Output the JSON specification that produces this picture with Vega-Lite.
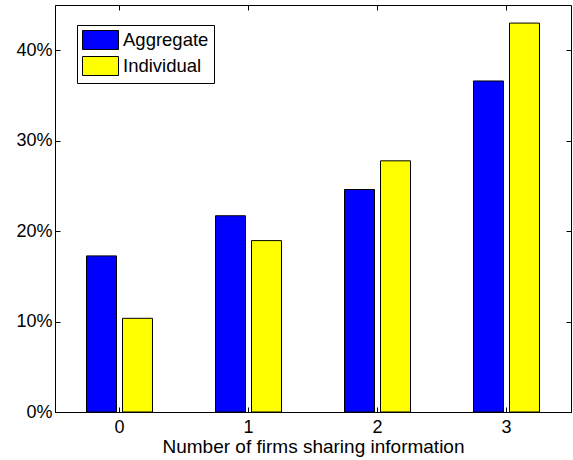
{
  "$schema": "https://vega.github.io/schema/vega-lite/v6.json",
  "width": 516,
  "height": 407,
  "autosize": {"type": "none"},
  "padding": {"left": 55, "top": 5, "right": 2, "bottom": 48},
  "background": "white",
  "config": {
    "font": "Liberation Sans",
    "view": {"stroke": "black", "strokeWidth": 1},
    "axis": {
      "domainColor": "black",
      "domainWidth": 1,
      "tickColor": "black",
      "labelColor": "black",
      "titleColor": "black",
      "labelFontSize": 18,
      "titleFontSize": 19,
      "titleFontWeight": "normal",
      "grid": false,
      "tickSize": -5
    }
  },
  "data": {
    "values": [
      {"n": "0", "type": "Aggregate", "v": 0.1726},
      {"n": "0", "type": "Individual", "v": 0.1036},
      {"n": "1", "type": "Aggregate", "v": 0.217},
      {"n": "1", "type": "Individual", "v": 0.1895},
      {"n": "2", "type": "Aggregate", "v": 0.246},
      {"n": "2", "type": "Individual", "v": 0.2777},
      {"n": "3", "type": "Aggregate", "v": 0.366},
      {"n": "3", "type": "Individual", "v": 0.43}
    ]
  },
  "layer": [
    {
      "mark": {"type": "bar", "stroke": "black", "strokeWidth": 1},
      "encoding": {
        "x": {
          "field": "n", "type": "nominal",
          "scale": {"paddingInner": 0, "paddingOuter": 0},
          "axis": {"orient": "bottom", "labelAngle": 0, "labelPadding": 11, "title": "Number of firms sharing information", "titlePadding": 1}
        },
        "xOffset": {
          "field": "type", "type": "nominal",
          "scale": {"paddingInner": 0.1667, "paddingOuter": 0.875}
        },
        "y": {
          "field": "v", "type": "quantitative",
          "scale": {"domain": [0, 0.45], "nice": false},
          "axis": {"orient": "left", "values": [0, 0.1, 0.2, 0.3, 0.4], "format": ".0%", "title": null, "labelPadding": 8}
        },
        "color": {
          "field": "type", "type": "nominal",
          "scale": {"domain": ["Aggregate", "Individual"], "range": ["#0000ff", "#ffff00"]},
          "legend": {
            "orient": "none",
            "legendX": 22,
            "legendY": 20,
            "title": null,
            "symbolType": "M-1,-1L2.79,-1L2.79,1L-1,1Z",
            "symbolSize": 361,
            "symbolStrokeColor": "black",
            "symbolStrokeWidth": 1,
            "symbolOpacity": 1,
            "labelFontSize": 18.5,
            "labelColor": "black",
            "labelOffset": 21,
            "rowPadding": 2,
            "strokeColor": "black",
            "fillColor": "white",
            "padding": 5,
            "cornerRadius": 0
          }
        }
      }
    },
    {
      "mark": {"type": "bar", "opacity": 0},
      "encoding": {
        "x": {
          "field": "n", "type": "nominal",
          "axis": {"orient": "top", "labels": false, "title": null, "domain": false}
        },
        "xOffset": {"field": "type", "type": "nominal"},
        "y": {
          "field": "v", "type": "quantitative",
          "axis": {"orient": "right", "values": [0, 0.1, 0.2, 0.3, 0.4], "labels": false, "title": null, "domain": false}
        }
      }
    }
  ],
  "resolve": {"axis": {"x": "independent", "y": "independent"}}
}
